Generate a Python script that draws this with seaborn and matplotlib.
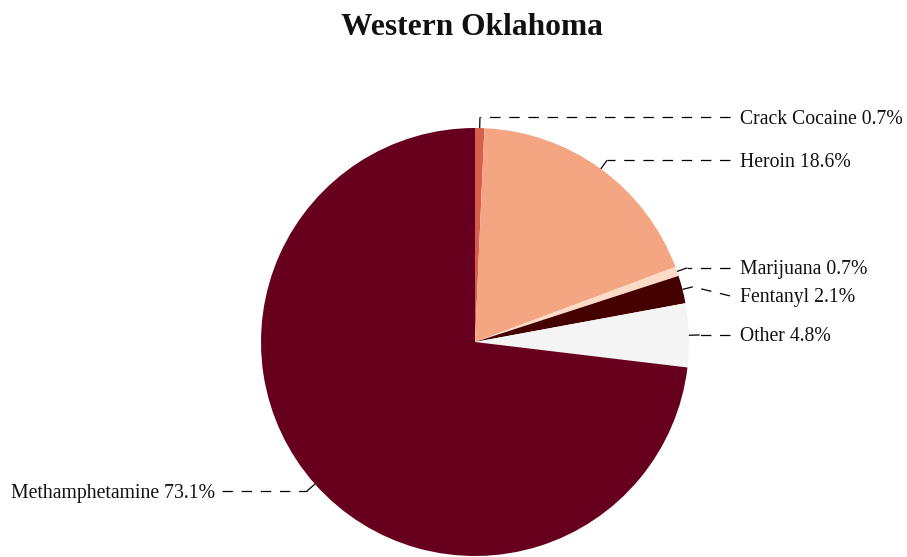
import numpy as np
import matplotlib
matplotlib.use("Agg")
import matplotlib.pyplot as plt
import seaborn as sns

# ---- data ----
title = "Western Oklahoma"
drugs = ["Crack Cocaine", "Heroin", "Marijuana", "Fentanyl", "Other", "Methamphetamine"]
shares = [0.7, 18.6, 0.7, 2.1, 4.8, 73.1]
colors = ["#d6604d", "#f4a582", "#fddbc7", "#450000", "#f4f4f4", "#67001f"]

sns.set_theme(style="white")
plt.rcParams["font.family"] = ["Liberation Serif", "DejaVu Serif"]
plt.rcParams["lines.scale_dashes"] = False

W, H = 907, 557
fig = plt.figure(figsize=(W / 100, H / 100), dpi=100)
ax = fig.add_axes([0, 0, 1, 1])
cx, cy, R = 475, H - 342, 214

wedges, _ = ax.pie(shares, colors=sns.color_palette(colors), startangle=90,
                   counterclock=False, center=(cx, cy), radius=R, frame=True,
                   wedgeprops=dict(linewidth=0))
ax.set_xlim(0, W)
ax.set_ylim(0, H)
ax.set_aspect("equal")
ax.axis("off")

items = []
for w, name, v in zip(wedges, drugs, shares):
    ang = np.deg2rad((w.theta1 + w.theta2) / 2)
    c, s = np.cos(ang), np.sin(ang)
    p1 = (cx + R * c, cy + R * s)
    p2 = (cx + 1.05 * R * c, cy + 1.05 * R * s)
    side = 1 if c >= 0 else -1
    items.append(dict(label=f"{name} {v:.1f}%", p1=p1, p2=p2, side=side, y=p2[1]))

gap = 28
for side in (1, -1):
    grp = sorted([it for it in items if it["side"] == side], key=lambda it: -it["y"])
    for i in range(1, len(grp)):
        if grp[i - 1]["y"] - grp[i]["y"] < gap:
            grp[i]["y"] = grp[i - 1]["y"] - gap

fs = 14.2
for it in items:
    if it["side"] == 1:
        lx, tx, ha = cx + 255, cx + 265, "left"
    else:
        lx, tx, ha = cx - 253, cx - 260, "right"
    # short radial tick from the pie edge
    ax.plot([it["p1"][0], it["p2"][0]], [it["p1"][1], it["p2"][1]],
            color="#000000", lw=0.9, solid_capstyle="butt")
    # dashed leader to the label
    ax.plot([lx, it["p2"][0]], [it["y"], it["p2"][1]],
            color="#000000", lw=0.9, linestyle=(0, (7.5, 6.3)),
            dash_capstyle="butt")
    ax.text(tx, it["y"] - 6.5, it["label"], ha=ha, va="baseline", fontsize=fs,
            color="#111111")

ax.text(472, H - 35, title, ha="center", va="baseline", fontsize=22.7,
        fontweight="bold", color="#111111")

fig.savefig("out.png", dpi=100)
